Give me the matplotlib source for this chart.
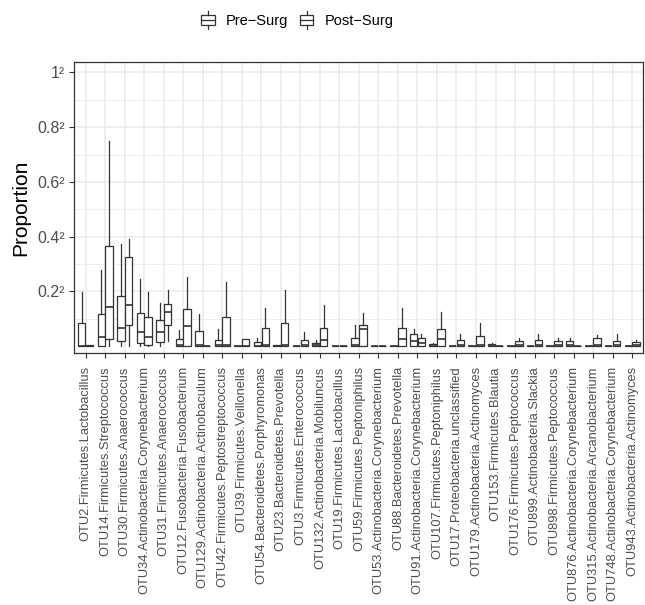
import numpy as np
import matplotlib
matplotlib.use("Agg")
import matplotlib.pyplot as plt
import matplotlib.transforms as mtransforms
from matplotlib.legend_handler import HandlerBase
from matplotlib.patches import Rectangle
from matplotlib.lines import Line2D

plt.rcParams['font.family'] = ['Liberation Sans', 'DejaVu Sans']

categories = [
    "OTU2.Firmicutes.Lactobacillus", "OTU14.Firmicutes.Streptococcus",
    "OTU30.Firmicutes.Anaerococcus", "OTU34.Actinobacteria.Corynebacterium",
    "OTU31.Firmicutes.Anaerococcus", "OTU12.Fusobacteria.Fusobacterium",
    "OTU129.Actinobacteria.Actinobaculum", "OTU42.Firmicutes.Peptostreptococcus",
    "OTU39.Firmicutes.Veillonella", "OTU54.Bacteroidetes.Porphyromonas",
    "OTU23.Bacteroidetes.Prevotella", "OTU3.Firmicutes.Enterococcus",
    "OTU132.Actinobacteria.Mobiluncus", "OTU19.Firmicutes.Lactobacillus",
    "OTU59.Firmicutes.Peptoniphilus", "OTU53.Actinobacteria.Corynebacterium",
    "OTU88.Bacteroidetes.Prevotella", "OTU91.Actinobacteria.Corynebacterium",
    "OTU107.Firmicutes.Peptoniphilus", "OTU17.Proteobacteria.unclassified",
    "OTU179.Actinobacteria.Actinomyces", "OTU153.Firmicutes.Blautia",
    "OTU176.Firmicutes.Peptococcus", "OTU899.Actinobacteria.Slackia",
    "OTU898.Firmicutes.Peptococcus", "OTU876.Actinobacteria.Corynebacterium",
    "OTU315.Actinobacteria.Arcanobacterium", "OTU748.Actinobacteria.Corynebacterium",
    "OTU943.Actinobacteria.Actinomyces",
]
groups = ["Pre\u2212Surg", "Post\u2212Surg"]

# box statistics (units = sqrt(proportion))
pre_q1 = [0, 0, 0.019, 0.010, 0.017, 0, 0, 0, 0, 0, 0, 0, 0, 0, 0,
          0, 0, 0, 0, 0, 0, 0, 0, 0, 0, 0, 0, 0, 0]
pre_med = [0, 0.032, 0.068, 0.051, 0.050, 0.004, 0.004, 0.006, 0, 0, 0, 0, 0.004, 0, 0.005,
           0, 0, 0.019, 0.002, 0, 0, 0.002, 0, 0, 0, 0.003, 0, 0, 0]
pre_q3 = [0.085, 0.116, 0.184, 0.122, 0.095, 0.026, 0.055, 0.024, 0, 0.015, 0.003, 0, 0.012, 0, 0.030,
          0, 0, 0.043, 0.009, 0, 0, 0.008, 0, 0, 0, 0.018, 0, 0, 0]
pre_lo = [0] * 29
pre_hi = [0.199, 0.280, 0.375, 0.247, 0.156, 0.058, 0.116, 0.063, 0, 0.031, 0.003, 0, 0.022, 0, 0.077,
          0, 0, 0.062, 0.011, 0, 0, 0.012, 0, 0, 0, 0.030, 0, 0, 0]

post_q1 = [0, 0.028, 0.078, 0.004, 0.079, 0, 0, 0, 0, 0, 0, 0, 0, 0, 0,
           0, 0, 0, 0, 0, 0, 0, 0, 0, 0, 0, 0, 0, 0]
post_med = [0, 0.143, 0.149, 0.032, 0.124, 0.072, 0, 0.006, 0, 0.004, 0.003, 0.005, 0.022, 0, 0.063,
            0, 0.026, 0.010, 0.026, 0.003, 0.003, 0, 0.003, 0.003, 0.003, 0, 0.003, 0.003, 0.003]
post_q3 = [0.005, 0.367, 0.327, 0.105, 0.155, 0.135, 0, 0.108, 0.027, 0.067, 0.085, 0.022, 0.066, 0, 0.077,
           0, 0.066, 0.031, 0.064, 0.024, 0.037, 0, 0.019, 0.024, 0.018, 0, 0.030, 0.019, 0.016]
post_lo = [0, 0, 0, 0, 0.019, 0, 0, 0, 0, 0, 0, 0, 0, 0, 0,
           0, 0, 0, 0, 0, 0, 0, 0, 0, 0, 0, 0, 0, 0]
post_hi = [0.005, 0.751, 0.391, 0.199, 0.207, 0.254, 0, 0.233, 0.027, 0.138, 0.205, 0.052, 0.150, 0, 0.120,
           0, 0.140, 0.046, 0.125, 0.044, 0.085, 0, 0.030, 0.043, 0.030, 0, 0.040, 0.043, 0.024]

y_breaks = [0.2, 0.4, 0.6, 0.8, 1.0]
y_labels = ["0.2\u00b2", "0.4\u00b2", "0.6\u00b2", "0.8\u00b2", "1\u00b2"]

line_col = "#333333"
grid_col = "#ebebeb"


def make_stats(q1, med, q3, lo, hi):
    return [dict(q1=a, med=b, q3=c, whislo=d, whishi=e, fliers=[])
            for a, b, c, d, e in zip(q1, med, q3, lo, hi)]


class BoxKey(HandlerBase):
    def create_artists(self, legend, orig_handle, xdescent, ydescent,
                       width, height, fontsize, trans):
        x0, y0 = -xdescent, -ydescent
        cx = x0 + width / 2
        bw = width * 0.9
        rect = Rectangle((cx - bw / 2, y0 + height * 0.22), bw, height * 0.56,
                         facecolor="white", edgecolor=line_col, lw=0.9, transform=trans)
        med = Line2D([cx - bw / 2, cx + bw / 2], [y0 + height / 2] * 2,
                     color=line_col, lw=0.9, transform=trans)
        w1 = Line2D([cx, cx], [y0, y0 + height * 0.22], color=line_col, lw=0.9, transform=trans)
        w2 = Line2D([cx, cx], [y0 + height * 0.78, y0 + height], color=line_col, lw=0.9, transform=trans)
        return [rect, med, w1, w2]


fig = plt.figure(figsize=(6.45, 6.05), dpi=100)
ax = fig.add_axes([0.1147, 0.4165, 0.882, 0.481])

x = np.arange(1, len(categories) + 1)
dodge, bw = 0.2, 0.38
style = dict(showfliers=False, showcaps=False, patch_artist=True, widths=bw,
             boxprops=dict(facecolor="white", edgecolor=line_col, lw=0.9),
             medianprops=dict(color=line_col, lw=1.2),
             whiskerprops=dict(color=line_col, lw=0.9), manage_ticks=False)
ax.bxp(make_stats(pre_q1, pre_med, pre_q3, pre_lo, pre_hi), positions=x - dodge, **style)
ax.bxp(make_stats(post_q1, post_med, post_q3, post_lo, post_hi), positions=x + dodge, **style)

ax.set_xlim(0.4, len(categories) + 0.55)
ax.set_ylim(-0.025, 1.038)
ax.set_xticks(x)
ax.set_xticklabels(categories, rotation=90, ha="center", va="top", fontsize=9.3, color="#4d4d4d")
offset = mtransforms.ScaledTranslation(4 / 100, 0, fig.dpi_scale_trans)
for lab in ax.get_xticklabels():
    lab.set_transform(lab.get_transform() + offset)
ax.set_yticks(y_breaks)
ax.set_yticklabels(y_labels, fontsize=11.5, color="#4d4d4d")
ax.set_yticks([0.1, 0.3, 0.5, 0.7, 0.9], minor=True)
ax.tick_params(axis="both", which="major", length=3.5, width=0.8, color=line_col, pad=3)
ax.tick_params(axis="x", pad=6)
ax.tick_params(axis="y", which="minor", length=0)

ax.set_axisbelow(True)
ax.grid(True, which="major", color=grid_col, lw=1.1)
ax.grid(True, which="minor", axis="y", color=grid_col, lw=0.6)
for sp in ax.spines.values():
    sp.set_color(line_col)
    sp.set_linewidth(0.9)

ax.set_ylabel("Proportion", fontsize=15, labelpad=5)

handles = [Rectangle((0, 0), 1, 1), Rectangle((0, 0), 1, 1)]
fig.legend(handles, groups, handler_map={Rectangle: BoxKey()},
           loc="center", bbox_to_anchor=(297 / 645, 1 - 20 / 605), ncol=2, frameon=False,
           fontsize=10.5, handlelength=1.0, handleheight=1.6, handletextpad=0.7,
           columnspacing=0.8)

fig.savefig("out.png", dpi=100)
